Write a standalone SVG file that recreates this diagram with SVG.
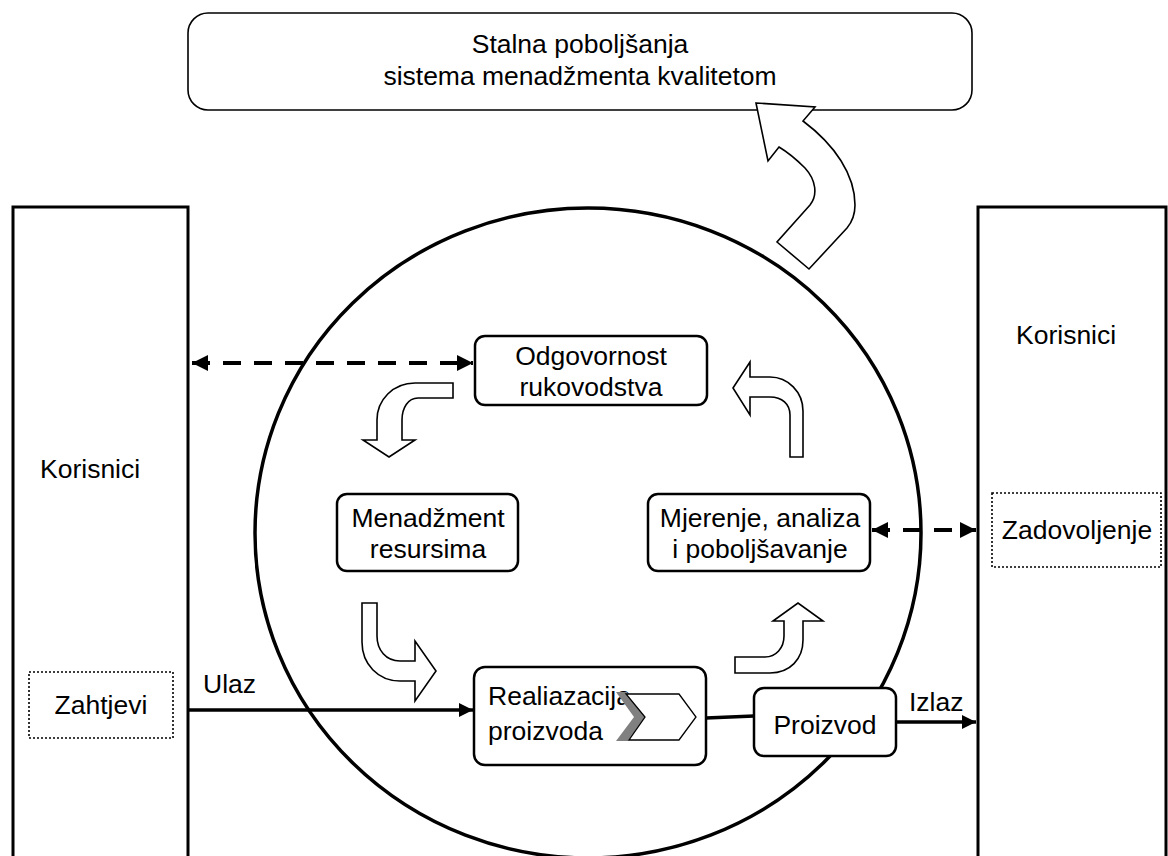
<svg xmlns="http://www.w3.org/2000/svg" width="1168" height="856" viewBox="0 0 1168 856">
<style>
text{font-family:"Liberation Sans",Arial,sans-serif;font-size:26.5px;fill:#000}
.box{fill:#fff;stroke:#000;stroke-width:2.5}
.big{fill:none;stroke:#000;stroke-width:3}
.dot{fill:#fff;stroke:#000;stroke-width:1.6;stroke-dasharray:2 2}
.blk{fill:#fff;stroke:#000;stroke-width:1.6;stroke-linejoin:miter}
.ln{fill:none;stroke:#000;stroke-width:3.5}
.dash{fill:none;stroke:#000;stroke-width:4;stroke-dasharray:18 13}
</style>
<defs>
<marker id="ah" viewBox="0 0 10 10" refX="10" refY="5" markerWidth="4" markerHeight="4" orient="auto-start-reverse" markerUnits="strokeWidth">
<path d="M0,0 L10,5 L0,10 Z" fill="#000"/>
</marker>
</defs>
<rect width="1168" height="856" fill="#fff"/>
<g id="korisnici-left">
<path class="big" d="M13,860 L13,207 L188,207 L188,860"/>
<text x="40" y="478">Korisnici</text>
</g>
<g id="korisnici-right">
<path class="big" d="M978,860 L978,207 L1166,207 L1166,860"/>
<text x="1016" y="344">Korisnici</text>
</g>
<g id="circle">
<ellipse cx="588" cy="533" rx="333" ry="325" fill="none" stroke="#000" stroke-width="3.5"/>
</g>
<g id="stalna">
<rect x="188" y="13" width="784" height="97" rx="20" fill="#fff" stroke="#000" stroke-width="1.6"/>
<text x="580" y="53" text-anchor="middle">Stalna poboljšanja</text>
<text x="580" y="85" text-anchor="middle">sistema menadžmenta kvalitetom</text>
</g>
<g id="big-arrow">
<path class="blk" d="M756,103 L815,107 L803,121 C835,145 855,175 855,205 C855,215 852,222 847,228 L809,269 L777,242 L810,205 C818,195 816,180 805,168 C797,160 789,153 779,147 L768,161 Z"/>
</g>
<g id="zahtjevi">
<rect class="dot" x="29" y="672" width="144" height="66"/>
<text x="101" y="714" text-anchor="middle">Zahtjevi</text>
</g>
<g id="zadovoljenje">
<rect class="dot" x="992" y="493" width="169" height="74"/>
<text x="1077" y="539" text-anchor="middle">Zadovoljenje</text>
</g>
<g id="connectors">
<line class="dash" x1="192" y1="363" x2="473" y2="363" marker-start="url(#ah)" marker-end="url(#ah)"/>
<line class="dash" x1="872" y1="530" x2="976" y2="530" marker-start="url(#ah)" marker-end="url(#ah)"/>
<line class="ln" x1="188" y1="710" x2="473" y2="710" marker-end="url(#ah)"/>
<line class="ln" x1="706" y1="718" x2="754" y2="716"/>
<line class="ln" x1="896" y1="722" x2="976" y2="722" marker-end="url(#ah)"/>
<text x="203" y="693">Ulaz</text>
<text x="909" y="711">Izlaz</text>
</g>
<g id="cycle-arrows">
<path class="blk" d="M453,383 L415,383 C393,383 377,400 377,420 L377,440 L363,440 L389,457 L415,440 L402,440 L402,420 C402,408 408,398 418,398 L453,398 Z"/>
<path class="blk" d="M733,388 L750,362 L750,377 L770,377 C788,377 803,392 803,411 L803,457 L790,457 L790,415 C790,404 782,397 770,397 L750,397 L750,415 Z"/>
<path class="blk" d="M362,603 L377,603 L377,636 C377,650 386,661 400,661 L415,661 L415,641 L436,671 L415,701 L415,681 L400,681 C378,681 362,664 362,642 Z"/>
<path class="blk" d="M735,657 L765,657 C776,657 784,648 784,636 L784,621 L773,621 L798,603 L823,621 L803,621 L803,640 C803,659 790,673 770,673 L735,673 Z"/>
</g>
<g id="odgovornost">
<rect class="box" x="475" y="336" width="232" height="69" rx="10"/>
<text x="591" y="365" text-anchor="middle">Odgovornost</text>
<text x="591" y="396" text-anchor="middle">rukovodstva</text>
</g>
<g id="menadzment">
<rect class="box" x="337" y="494" width="181" height="77" rx="10"/>
<text x="428" y="527" text-anchor="middle">Menadžment</text>
<text x="428" y="558" text-anchor="middle">resursima</text>
</g>
<g id="mjerenje">
<rect class="box" x="648" y="494" width="222" height="77" rx="10"/>
<text x="760" y="527" text-anchor="middle">Mjerenje, analiza</text>
<text x="760" y="558" text-anchor="middle">i poboljšavanje</text>
</g>
<g id="realizacija">
<rect class="box" x="474" y="667" width="232" height="98" rx="11"/>
<text x="488" y="705">Realiazacija</text>
<text x="488" y="740">proizvoda</text>
<path d="M616,692 L627,692 L646,717 L628,741 L616,741 L634,717 Z" fill="#808080"/>
<path d="M626,694 L679,694 L696,717 L679,740 L629,740 L645,717 Z" fill="#fff" stroke="#000" stroke-width="1.3"/>
</g>
<g id="proizvod">
<rect class="box" x="754" y="688" width="142" height="68" rx="10"/>
<text x="825" y="734" text-anchor="middle">Proizvod</text>
</g>
</svg>
